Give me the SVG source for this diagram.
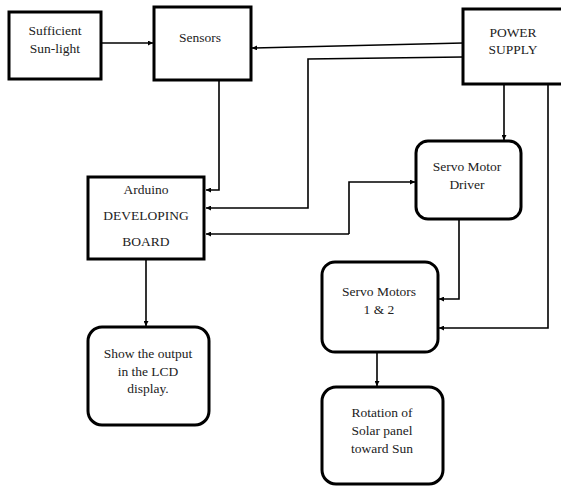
<svg xmlns="http://www.w3.org/2000/svg" width="561" height="486" viewBox="0 0 561 486">
<style>
.box{fill:#fff;stroke:#000;stroke-width:3}
.ln{fill:none;stroke:#000;stroke-width:1.6}
text{font-family:'Liberation Serif','Times New Roman',serif;font-size:13.5px;fill:#222;text-anchor:middle}
</style>
<defs>
<marker id="ah" viewBox="0 0 10 10" refX="10" refY="5" markerWidth="5" markerHeight="5" orient="auto" markerUnits="userSpaceOnUse">
<path d="M0,0 L10,5 L0,10 z" fill="#000"/>
</marker>
</defs>
<rect width="561" height="486" fill="#fff"/>
<g id="connectors">
<path class="ln" d="M101,43 L153,43" marker-end="url(#ah)"/>
<path class="ln" d="M463,43 L252,48" marker-end="url(#ah)"/>
<path class="ln" d="M463,57 L308,59 L308,208 L206,208" marker-end="url(#ah)"/>
<path class="ln" d="M219,80 L219,190 L206,190" marker-end="url(#ah)"/>
<path class="ln" d="M349,234 L206,234" marker-end="url(#ah)"/>
<path class="ln" d="M349,234 L349,182 L415,182" marker-end="url(#ah)"/>
<path class="ln" d="M504,84 L504,140" marker-end="url(#ah)"/>
<path class="ln" d="M459,219 L459,299 L439,299" marker-end="url(#ah)"/>
<path class="ln" d="M548,84 L548,328 L439,328" marker-end="url(#ah)"/>
<path class="ln" d="M377,352 L377,386" marker-end="url(#ah)"/>
<path class="ln" d="M146,259 L146,326" marker-end="url(#ah)"/>
</g>
<g id="sunlight">
<rect class="box" x="9" y="12" width="92" height="67"/>
<text x="55" y="35">Sufficient</text>
<text x="55" y="53">Sun-light</text>
</g>
<g id="sensors">
<rect class="box" x="154" y="7" width="97" height="73"/>
<text x="200" y="42">Sensors</text>
</g>
<g id="power">
<rect class="box" x="463" y="9" width="104" height="75"/>
<text x="513" y="37">POWER</text>
<text x="513" y="54">SUPPLY</text>
</g>
<g id="arduino">
<rect class="box" x="88" y="177" width="116" height="82"/>
<text x="146" y="194">Arduino</text>
<text x="146" y="220">DEVELOPING</text>
<text x="146" y="246">BOARD</text>
</g>
<g id="driver">
<rect class="box" x="416" y="141" width="105" height="78" rx="12"/>
<text x="467" y="171">Servo Motor</text>
<text x="467" y="189">Driver</text>
</g>
<g id="motors">
<rect class="box" x="322" y="262" width="116" height="90" rx="13"/>
<text x="379" y="296">Servo Motors</text>
<text x="379" y="314">1 &amp; 2</text>
</g>
<g id="lcd">
<rect class="box" x="88" y="327" width="121" height="98" rx="14"/>
<text x="148" y="358">Show the output</text>
<text x="148" y="376">in the LCD</text>
<text x="148" y="393">display.</text>
</g>
<g id="rotation">
<rect class="box" x="322" y="387" width="121" height="97" rx="14"/>
<text x="382" y="417">Rotation of</text>
<text x="382" y="435">Solar panel</text>
<text x="382" y="453">toward Sun</text>
</g>
</svg>
